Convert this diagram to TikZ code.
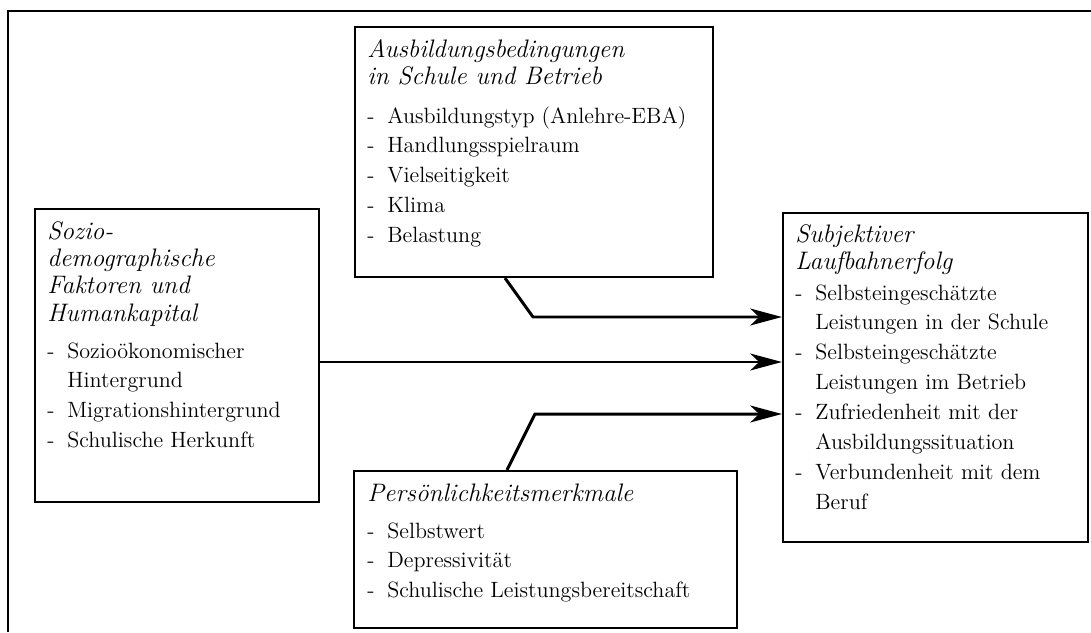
\documentclass[tikz,border=0pt]{standalone}
\usepackage{tikz}
\usepackage{array}
\usetikzlibrary{arrows.meta,fit}

\newcommand{\framecolor}{black}
\newcommand{\kasten}[3]{
    % Frame Box Between Two Corners
    % \kasten{name}{upper left}{lower right}
    % example:
    %   \kasten{k}{(0,0)}{(100,50)}
    %   \draw (k.east) -- ++(50,0);
    \node[draw=\framecolor,line width=1.2pt,inner sep=0pt,fit={#2 #3}] (#1) {};
}
\newcommand{\titel}[3]{
    % Italic Heading, First Baseline At Position
    % \titel{name}{position}{lines, separated by \\}
    % example:
    %   \titel{t}{(10,30)}{Erste Zeile\\zweite Zeile}
    \node[titel] (#1) at #2 {\begin{tabular}[t]{@{}l@{}}#3\end{tabular}};
}
\newcommand{\punkte}[3]{
    % Dashed List, First Baseline At Position
    % \punkte{name}{position}{rows: - & text \\ & more text}
    % example:
    %   \punkte{p}{(10,60)}{- & Eins\\ - & Zwei}
    \node[punkte] (#1) at #2 {\begin{tabular}[t]{@{}wl{0.4cm}@{}l@{}}#3\end{tabular}};
}

\begin{document}
\begin{tikzpicture}[x=0.02cm,y=-0.02cm,
    titel/.style={anchor=base west,inner sep=0pt,
      font=\fontsize{14.4}{15.6}\selectfont\itshape},
    punkte/.style={anchor=base west,inner sep=0pt,
      font=\fontsize{12.6}{17.07}\selectfont},
    pfeil/.style={line width=1.7pt,
      -{Stealth[length=18pt,width=9.6pt,inset=5pt]}}]
  \useasboundingbox (0,0) rectangle (1091,632);
  \draw[line width=1.3pt] (8,632) -- (8,11) -- (1091,11);

  % Ausbildung (oben)
  \kasten{ausbildung}{(355,27)}{(713,277)}
  \titel{ausbildungTitel}{(367,57)}{Ausbildungsbedingungen\\
      in Schule und Betrieb}
  \punkte{ausbildungPunkte}{(367,123)}{- & Ausbildungstyp (Anlehre-EBA)\\
      - & Handlungsspielraum\\ - & Vielseitigkeit\\ - & Klima\\
      - & Belastung}

  % Soziodemographie (links)
  \kasten{sozio}{(35,209)}{(319,502)}
  \titel{sozioTitel}{(47,239)}{Sozio-\\ demographische\\ Faktoren und\\
      Humankapital}
  \punkte{sozioPunkte}{(47,358)}{- & Sozioökonomischer\\ & Hintergrund\\
      - & Migrationshintergrund\\ - & Schulische Herkunft}

  % Persoenlichkeit (unten)
  \kasten{persoenlich}{(354,471)}{(737,628)}
  \titel{persoenlichTitel}{(367,501)}{Persönlichkeitsmerkmale}
  \punkte{persoenlichPunkte}{(367,538)}{- & Selbstwert\\ - & Depressivität\\
      - & Schulische Leistungsbereitschaft}

  % Laufbahnerfolg (rechts)
  \kasten{laufbahn}{(783,213)}{(1088,542)}
  \titel{laufbahnTitel}{(795,242)}{Subjektiver\\ Laufbahnerfolg}
  \punkte{laufbahnPunkte}{(795,300)}{- & Selbsteingeschätzte\\
      & Leistungen in der Schule\\ - & Selbsteingeschätzte\\
      & Leistungen im Betrieb\\ - & Zufriedenheit mit der\\
      & Ausbildungssituation\\ - & Verbundenheit mit dem\\ & Beruf}

  % Pfeile
  \coordinate (knickOben) at (533,317);
  \coordinate (mitte) at (0,362);
  \coordinate (knickUnten) at (535,414);
  \draw[pfeil] ([xshift=-0.58cm]ausbildung.south) -- (knickOben)
      -- (knickOben -| laufbahn.west);
  \draw[pfeil] (sozio.east |- mitte) -- (laufbahn.west |- mitte);
  \draw[pfeil] ([xshift=-0.77cm]persoenlich.north) -- (knickUnten)
      -- (knickUnten -| laufbahn.west);
\end{tikzpicture}
\end{document}
